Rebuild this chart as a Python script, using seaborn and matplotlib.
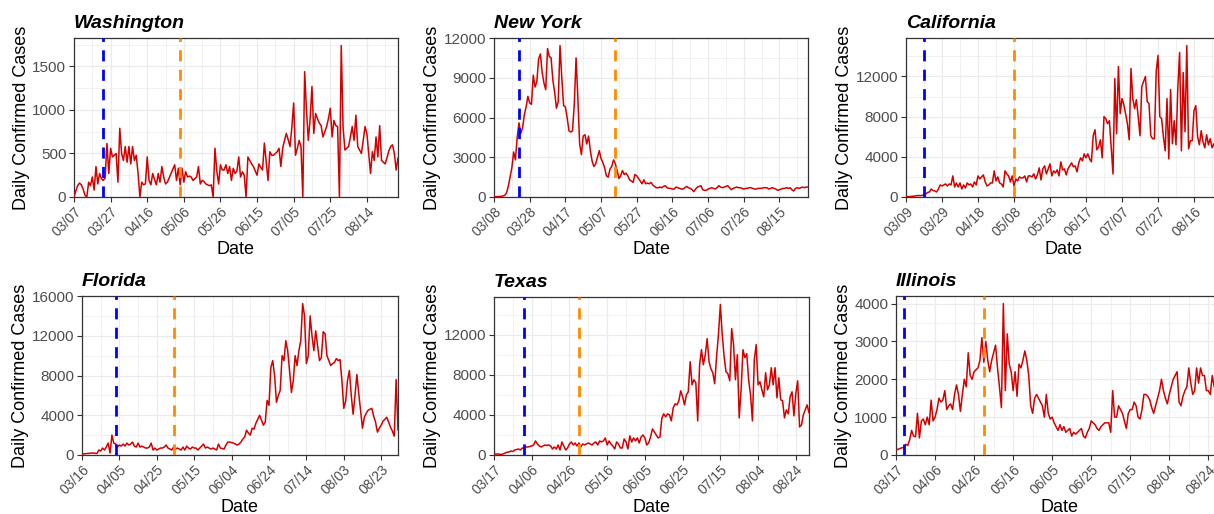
import matplotlib
matplotlib.use("Agg")
import matplotlib.pyplot as plt
import matplotlib.dates as mdates
import numpy as np
import pandas as pd
import seaborn as sns

# ---------------- data ----------------
states = ["Washington", "New York", "California", "Florida", "Texas", "Illinois"]
start_dates = ["2020-03-07", "2020-03-08", "2020-03-09", "2020-03-16", "2020-03-17", "2020-03-17"]
stay_home_dates = ["2020-03-23", "2020-03-22", "2020-03-19", "2020-04-03", "2020-04-02", "2020-03-21"]
reopen_dates = ["2020-05-04", "2020-05-15", "2020-05-08", "2020-05-04", "2020-05-01", "2020-05-01"]

wa_cases = [
    0, 70, 130, 160, 140, 90, 20, 0, 170, 130,
    230, 80, 350, 150, 270, 210, 190, 220, 615, 270,
    560, 460, 480, 500, 170, 790, 500, 420, 580, 400,
    580, 380, 580, 420, 480, 270, 0, 170, 140, 150,
    460, 190, 140, 270, 200, 140, 270, 170, 350, 230,
    150, 170, 220, 270, 320, 370, 190, 330, 140, 330,
    170, 290, 230, 240, 230, 190, 210, 230, 350, 150,
    190, 180, 150, 140, 130, 140, 0, 560, 300, 150,
    370, 310, 310, 370, 270, 350, 190, 330, 270, 300,
    460, 230, 290, 250, 0, 460, 420, 380, 350, 300,
    250, 380, 340, 310, 620, 400, 190, 520, 480, 480,
    500, 520, 560, 350, 560, 650, 730, 660, 580, 800,
    1080, 480, 560, 650, 580, 0, 1440, 1000, 650, 900,
    1270, 730, 960, 900, 850, 820, 690, 750, 810, 900,
    1020, 690, 880, 820, 810, 0, 1740, 800, 540, 560,
    580, 690, 810, 650, 940, 580, 540, 500, 650, 810,
    730, 500, 270, 520, 420, 690, 460, 820, 420, 400,
    380, 450, 530, 580, 600, 500, 310, 450,
]
ny_cases = [
    0, 20, 30, 40, 50, 80, 120, 300, 800, 1500,
    2200, 3400, 2800, 4500, 5600, 4800, 5200, 6200, 6800, 7600,
    7100, 7000, 9200, 8300, 8700, 10400, 10800, 9400, 8600, 8100,
    11200, 10600, 10500, 8800, 7900, 6700, 7200, 11430, 9000, 6900,
    6800, 6000, 5000, 4900, 5000, 7000, 10500, 7500, 4000, 3200,
    4600, 4700, 4000, 4600, 3500, 2700, 2300, 2500, 3000, 3500,
    2900, 2600, 2200, 1600, 1500, 2100, 2300, 2800, 2500, 2000,
    1400, 1600, 2000, 1700, 1800, 1600, 1300, 1200, 1100, 1700,
    1600, 1400, 1200, 1000, 1300, 1000, 1050, 1000, 1100, 900,
    800, 700, 700, 750, 700, 800, 850, 700, 650, 650,
    600, 600, 750, 700, 650, 600, 600, 700, 800, 700,
    650, 550, 400, 600, 750, 800, 850, 550, 500, 500,
    600, 650, 700, 650, 600, 700, 850, 750, 700, 750,
    800, 850, 700, 550, 650, 700, 750, 700, 700, 650,
    600, 650, 650, 700, 700, 650, 600, 600, 650, 650,
    650, 700, 700, 700, 600, 650, 700, 650, 600, 500,
    550, 600, 650, 650, 700, 650, 700, 550, 450, 650,
    700, 650, 700, 750, 700, 750, 750,
]
ca_cases = [
    20, 30, 50, 60, 80, 100, 120, 150, 130, 170,
    150, 300, 450, 500, 800, 650, 600, 500, 800, 1200,
    1100, 1200, 1300, 1100, 1300, 1200, 2100, 1000, 1400, 1000,
    1400, 800, 1200, 900, 1400, 1200, 1300, 1000, 1500, 1200,
    2100, 1800, 2000, 2200, 1500, 1100, 1200, 1400, 1400, 2600,
    1600, 2000, 1400, 1300, 1000, 2600, 2300, 2100, 1500, 2100,
    1100, 1800, 1600, 2000, 1900, 1900, 2100, 1500, 2100, 2100,
    2000, 2300, 1800, 2200, 2900, 1700, 2800, 3100, 2300, 2800,
    3300, 2100, 2600, 2400, 2700, 2100, 3500, 2700, 2800, 2200,
    2800, 3100, 3400, 3000, 3100, 2500, 3400, 3900, 3600, 4300,
    3900, 4300, 3800, 3500, 6100, 6700, 4700, 5000, 5700, 3900,
    8000, 7800, 7300, 7600, 5000, 2300, 11800, 6300, 13000, 8300,
    9800, 9200, 8300, 7300, 5700, 12800, 9800, 8800, 9700, 8000,
    6100, 11000, 11500, 12000, 9500, 9300, 6100, 5800, 5800, 12500,
    14100, 8000, 7800, 6000, 4600, 9800, 3800, 10700, 5300, 7600,
    5200, 10800, 14400, 4600, 12400, 6500, 15080, 4800, 5600, 5600,
    8600, 9100, 6000, 5200, 6600, 5500, 4900, 6200, 5200, 5800,
    4900, 5300, 4800, 5400, 4700, 5100,
]
fl_cases = [
    100, 120, 150, 150, 170, 190, 200, 170, 150, 500,
    400, 700, 500, 800, 1200, 200, 2000, 1200, 1100, 800,
    1000, 900, 1100, 900, 1200, 1000, 1100, 1300, 900, 800,
    1200, 800, 900, 800, 700, 700, 800, 1200, 500, 700,
    500, 600, 700, 700, 800, 1000, 700, 600, 500, 800,
    600, 700, 600, 500, 800, 500, 900, 700, 600, 800,
    700, 700, 500, 700, 900, 1100, 700, 800, 700, 600,
    700, 600, 500, 1100, 700, 650, 600, 1000, 1300, 1300,
    1250, 1200, 1100, 1000, 1100, 1300, 1600, 1800, 2500, 2200,
    2000, 2700, 2600, 3200, 3600, 4000, 3500, 3000, 3300,
    5500, 5000, 8800, 9500, 8000, 5300, 6000, 6500, 10000, 9500,
    11500, 10500, 8500, 6300, 7500, 10000, 9000, 10500, 11500, 15240,
    14000, 9200, 10000, 14000, 12000, 10500, 12500, 11000, 9500, 9800,
    12400, 12200, 10000, 9500, 9000, 9200, 9300, 9700, 9500, 9600,
    7500, 4700, 5400, 7500, 8500, 6000, 4100, 6000, 8100, 6200,
    4500, 2700, 3800, 4200, 4500, 4600, 4700, 3900, 3300, 2300,
    2700, 3000, 3400, 3600, 3800, 3300, 2800, 2400, 1900, 7600, 2500,
]
tx_cases = [
    100, 100, 100, 70, 50, 120, 200, 280, 300, 400,
    350, 500, 550, 600, 500, 700, 650, 800, 800, 850,
    900, 1000, 1400, 1100, 900, 800, 900, 1000, 950, 1000,
    900, 600, 800, 600, 1000, 500, 1300, 900, 500, 700,
    1100, 1300, 1000, 1200, 900, 1200, 800, 1100, 1000, 1100,
    1200, 1100, 1000, 1200, 1300, 1000, 1400, 1300, 1400, 1700,
    1000, 1400, 1100, 900, 600, 1300, 1100, 700, 700, 1600,
    1300, 600, 1900, 1300, 1700, 1400, 1700, 1200, 1800, 2000,
    1700, 1000, 1200, 1800, 2600, 2300, 2000, 1700, 1800, 3700,
    4100, 3800, 4100, 4000, 3400, 4700, 5100, 5000, 5400, 6400,
    5800, 5000, 6000, 6300, 9300, 7000, 7500, 7200, 3400, 9000,
    10500, 9000, 10000, 11600, 9300, 8600, 8200, 7100, 9800, 12000,
    15000, 12000, 9800, 8300, 8100, 7400, 12600, 11000, 7500, 10000,
    3700, 6500, 10500, 9700, 10100, 7500, 6000, 3400, 9500, 11000,
    7000, 7300, 6500, 5800, 8200, 6500, 7000, 8700, 7000, 8700,
    5700, 7700, 5500, 5400, 3700, 4500, 4100, 5800, 6300, 3900,
    6100, 7400, 2800, 3000, 4000, 4500, 5000, 4200,
]
il_cases = [
    130, 150, 170, 190, 200, 280, 250, 400, 650, 500,
    480, 1100, 450, 900, 950, 800, 1000, 800, 1450, 900,
    1000, 1200, 1500, 1400, 1450, 1700, 1200, 1300, 1350, 1200,
    1600, 1850, 1600, 1150, 1600, 2000, 1800, 2700, 2100, 2000,
    2200, 2250, 2300, 2500, 3100, 2450, 3000, 2500, 2200, 2500,
    2700, 2900, 2300, 1800, 1250, 4000, 1700, 3200, 2400, 2200,
    1700, 2200, 1550, 2400, 2300, 2500, 2750, 2500, 2100, 1300,
    1100, 1500, 1600, 1500, 1400, 1300, 1000, 1600, 1100, 950,
    1000, 850, 750, 650, 800, 650, 750, 600, 650, 700,
    500, 600, 550, 600, 650, 700, 500, 450, 600, 700,
    900, 850, 800, 700, 650, 750, 800, 850, 850, 850,
    600, 1700, 1000, 1000, 1300, 1200, 1100, 900, 700, 1100,
    1200, 1200, 1400, 1300, 1000, 950, 1200, 1600, 1600, 1550,
    1450, 1250, 1100, 1300, 1500, 1700, 2000, 1700, 1500, 1350,
    1600, 1800, 2000, 2100, 2200, 1400, 1300, 1550, 1700, 1800,
    2300, 1900, 1600, 1700, 2300, 1900, 2300, 2100, 2100, 1700,
    1700, 1600, 2100, 1800, 2200, 2400, 1900, 2200,
]
all_cases = [wa_cases, ny_cases, ca_cases, fl_cases, tx_cases, il_cases]

wa_yticks = [0, 500, 1000, 1500]
ny_yticks = [0, 3000, 6000, 9000, 12000]
ca_yticks = [0, 4000, 8000, 12000]
fl_yticks = [0, 4000, 8000, 12000, 16000]
tx_yticks = [0, 4000, 8000, 12000]
il_yticks = [0, 1000, 2000, 3000, 4000]
all_yticks = [wa_yticks, ny_yticks, ca_yticks, fl_yticks, tx_yticks, il_yticks]

frames = []
for st, sd, vals in zip(states, start_dates, all_cases):
    frames.append(pd.DataFrame({
        "state": st,
        "date": pd.date_range(sd, periods=len(vals), freq="D"),
        "cases": vals,
    }))
df = pd.concat(frames, ignore_index=True)

# ---------------- style ----------------
sns.set_theme(style="white")
plt.rcParams["font.family"] = ["Liberation Sans", "DejaVu Sans"]

W, H = 1214, 514
fig = plt.figure(figsize=(W / 100, H / 100), dpi=100)
fig.patch.set_facecolor("white")

# panel boxes in pixels: left, top, right, bottom
boxes = [
    (74, 38, 398, 197),
    (494, 38, 808, 197),
    (906, 38, 1221, 197),
    (82, 296, 398, 455),
    (494, 297, 809, 455),
    (896, 296, 1222, 455),
]

LINE_RED = "#D40000"
BLUE = "#0000FF"
ORANGE = "#FF8C00"
GRID = "#EBEBEB"
FRAME = "#333333"
TICKTXT = "#4D4D4D"

for i, st in enumerate(states):
    l, t, r, b = boxes[i]
    ax = fig.add_axes([l / W, 1 - b / H, (r - l) / W, (b - t) / H])
    sub = df[df["state"] == st]
    sns.lineplot(data=sub, x="date", y="cases", ax=ax, color=LINE_RED,
                 linewidth=1.1, zorder=3)
    ax.axvline(pd.Timestamp(stay_home_dates[i]), color=BLUE, lw=2.0,
               ls=(0, (4, 3)), zorder=4)
    ax.axvline(pd.Timestamp(reopen_dates[i]), color=ORANGE, lw=2.0,
               ls=(0, (4, 3)), zorder=4)

    d0 = sub["date"].iloc[0]
    d1 = sub["date"].iloc[-1]
    ax.set_xlim(d0, d1)
    ymax = sub["cases"].max() * 1.05

    major_x = pd.date_range(d0, d1, freq="20D")
    minor_x = pd.date_range(d0 + pd.Timedelta(days=10), d1, freq="20D")
    ax.set_xticks(major_x)
    ax.set_xticks(minor_x, minor=True)
    ax.xaxis.set_major_formatter(mdates.DateFormatter("%m/%d"))

    yt = all_yticks[i]
    step = yt[1] - yt[0]
    ax.set_yticks(yt)
    ax.set_yticklabels([str(v) for v in yt])
    ax.set_yticks([v + step / 2 for v in yt], minor=True)
    ax.set_ylim(0, ymax)

    ax.grid(which="major", color=GRID, lw=0.9)
    ax.grid(which="minor", color=GRID, lw=0.5)
    ax.set_axisbelow(True)
    for sp in ax.spines.values():
        sp.set_color(FRAME)
        sp.set_linewidth(0.9)
        sp.set_visible(True)

    ax.tick_params(axis="both", which="major", length=3.5, width=0.8,
                   color=FRAME, labelcolor=TICKTXT, pad=2,
                   bottom=True, left=True)
    ax.tick_params(axis="x", which="major", labelsize=10)
    ax.tick_params(axis="y", which="major", labelsize=11)
    ax.tick_params(axis="both", which="minor", length=0)
    for lab in ax.get_xticklabels():
        lab.set_rotation(45)
        lab.set_ha("right")
        lab.set_va("top")
        lab.set_rotation_mode("anchor")

    ax.set_xlabel("Date", fontsize=13, color="black", labelpad=1)
    ax.set_ylabel("Daily Confirmed Cases", fontsize=13, color="black", labelpad=2)
    ax.set_title(st, loc="left", fontsize=14, fontweight="bold",
                 fontstyle="italic", pad=7, color="black")

fig.savefig("out.png", dpi=100, facecolor="white")
